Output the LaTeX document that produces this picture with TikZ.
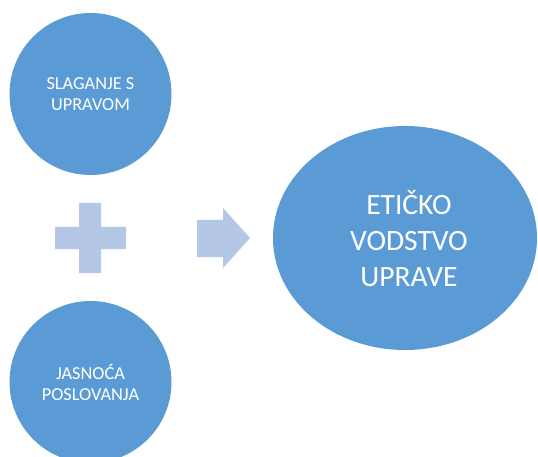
\documentclass[tikz,border=0pt]{standalone}
\usepackage{fontspec}
\setmainfont{Carlito}
\usetikzlibrary{shapes.geometric}

\definecolor{circblue}{RGB}{91,155,213}
\definecolor{signblue}{RGB}{180,199,231}

\begin{document}
\begin{tikzpicture}[x=1pt,y=1pt,yscale=-1,xscale=1,
  smallcirc/.style={circle,fill=circblue,draw=none,minimum size=162pt,inner sep=0pt,
    text=white,align=center,font=\fontsize{18.3}{21}\selectfont},
  bigoval/.style={ellipse,fill=circblue,draw=none,minimum width=264pt,minimum height=224pt,inner sep=0pt},
  bigtext/.style={text=white,align=center,font=\fontsize{29.5}{36}\selectfont},
  sign/.style={fill=signblue,draw=none}]
\useasboundingbox (0,0) rectangle (538,457);

%Shape: Circle [id:slaganje]
\node [smallcirc] (slaganje) at (90.5,94) {SLAGANJE S\\UPRAVOM};
%Shape: Circle [id:jasnoca]
\node [smallcirc] (jasnoca) at (90.5,382) {JASNOĆA\\POSLOVANJA};
%Shape: Ellipse [id:vodstvo]
\node [bigoval] (vodstvo) at (405,238) {};
\node [bigtext] (vodstvotext) at (409,239) {ETIČKO\\VODSTVO\\UPRAVE};

%Shape: Plus [id:plus]
\path [sign] (79,203) -- (101,203) -- (101,227) -- (126,227) -- (126,249) -- (101,249) -- (101,273) -- (79,273) -- (79,249) -- (55,249) -- (55,227) -- (79,227) -- cycle ;
%Shape: Right Arrow [id:arrow]
\path [sign] (197,220) -- (223,220) -- (223,208) -- (250,238) -- (223,268) -- (223,257) -- (197,257) -- cycle ;

\end{tikzpicture}
\end{document}
